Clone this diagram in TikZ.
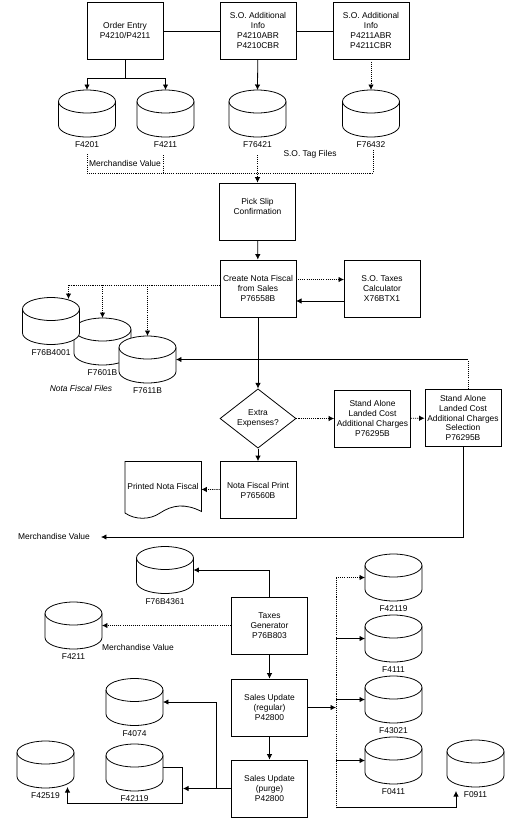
\documentclass[tikz,border=0pt]{standalone}
\usepackage{fontspec}
\setmainfont{Liberation Sans}
\usetikzlibrary{arrows.meta,shapes.geometric}
\tikzset{
  prog/.style={draw,fill=white,line width=.45pt,minimum width=1.52cm,minimum height=1.14cm,inner sep=0pt,align=center,font=\fontsize{4.8}{5.67}\selectfont},
  decide/.style={prog,diamond},
  disk/.style={minimum width=1.14cm,minimum height=.94cm,inner sep=0pt,outer sep=0pt},
  diskline/.style={draw,fill=white,line width=.45pt},
  filelabel/.style={font=\fontsize{4.8}{5.67}\selectfont,inner sep=0pt,label distance=.09cm},
  note/.style={font=\fontsize{4.8}{5.67}\selectfont,inner sep=0pt},
  solidto/.style={line width=.45pt,-{Latex[length=1.1mm,width=1.1mm]}},
  dotto/.style={solidto,dash pattern=on .6pt off .6pt},
  solidline/.style={line width=.45pt},
  dotline/.style={solidline,dash pattern=on .6pt off .6pt}
}
\begin{document}
\begin{tikzpicture}[x=.02cm,y=-.02cm]
  \useasboundingbox (0,0) rectangle (511,819);
  % programs
  \node[prog] (order) at (125,30.5) {Order Entry\\P4210/P4211};
  \node[prog] (infoa) at (258,30.5) {S.O. Additional\\Info\\P4210ABR\\P4210CBR};
  \node[prog] (infob) at (371,30.5) {S.O. Additional\\Info\\P4211ABR\\P4211CBR};
  \node[prog] (pick) at (257.5,211.5) {Pick Slip\\Confirmation\\\mbox{}};
  \node[prog] (create) at (258,288.5) {Create Nota Fiscal\\from Sales\\P76558B};
  \node[prog] (calc) at (382,288.5) {S.O. Taxes\\Calculator\\X76BTX1};
  \node[decide] (extra) at (258,418.5) {Extra\\Expenses?};
  \node[prog] (standa) at (372.5,418.5) {Stand Alone\\Landed Cost\\Additional Charges\\P76295B};
  \node[prog] (standb) at (463,418) {Stand Alone\\Landed Cost\\Additional Charges\\Selection\\P76295B};
  \node[prog] (print) at (258,490) {Nota Fiscal Print\\P76560B};
  \node[prog] (taxes) at (269.5,625.5) {Taxes\\Generator\\P76B803};
  \node[prog] (regular) at (269.5,707.5) {Sales Update\\(regular)\\P42800};
  \node[prog] (purge) at (269.5,788.5) {Sales Update\\(purge)\\P42800};
  % printed report
  \node[prog,draw=none,fill=none] (printed) at (163,489) {\raisebox{3.4pt}{Printed Nota Fiscal}};
  \draw[solidline] (125,461.5) -- (201.5,461.5) -- (201.5,511.5)
    .. controls (185,503) and (172,505) .. (160,513)
    .. controls (150,520) and (135,520) .. (125,513) -- cycle;
  % files
  \foreach \cname/\px/\py/\fname in {f4201/87/113.5/F4201,f4211/165.5/113.5/F4211,f76421/257.5/113.5/F76421,f76432/371/113.5/F76432,
    f7601/102.5/341.5/F7601B,f76b4001/51/321/F76B4001,f7611/147.5/359.5/F7611B,
    f76b4361/165/570/F76B4361,f4211b/73.5/625.5/F4211,f4074/134.5/702/F4074,f42119b/134.5/767.5/F42119,f42519/45.5/764.5/F42519,
    f42119/393.5/577.5/F42119,f4111/393.5/638.5/F4111,f43021/393.5/699.5/F43021,f0411/393.5/760.5/F0411,f0911/475.5/763.5/F0911}
    {
    \node[disk,label={[filelabel]below:\fname}] (\cname) at (\px,\py) {};
    \draw[diskline] ([yshift=-.23cm]\cname.north west) arc[start angle=180,end angle=0,x radius=.57cm,y radius=.23cm]
      -- ([yshift=.23cm]\cname.south east) arc[start angle=0,end angle=-180,x radius=.57cm,y radius=.23cm] -- cycle;
    \draw[solidline] ([yshift=-.23cm]\cname.north west) arc[start angle=180,end angle=360,x radius=.57cm,y radius=.23cm];
    }
  % free labels
  \node[note] (tagfiles) at (310,154) {S.O. Tag Files};
  \node[note] (merchtop) at (125,163.5) {Merchandise Value};
  \node[note,font=\fontsize{4.8}{5.67}\itshape\selectfont] (notafiles) at (81,388) {Nota Fiscal Files};
  \node[note] (merchmid) at (54,536.5) {Merchandise Value};
  \node[note] (merchlow) at (138,647) {Merchandise Value};
  % junctions
  \coordinate (entrybus) at (125,78);
  \coordinate (brackl) at (87,154);
  \coordinate (brackm) at (163,155);
  \coordinate (brackr) at (373,150);
  \coordinate (brackb) at (257.5,173);
  \coordinate (picktop) at (257.5,155);
  \coordinate (notabus) at (220,285);
  \coordinate (notaa) at (68.5,299);
  \coordinate (calcin) at (344,279.5);
  \coordinate (createout) at (296,279.5);
  \coordinate (calcout) at (344,301);
  \coordinate (createin) at (296,301);
  \coordinate (standup) at (468,389);
  \coordinate (merchend) at (101,537);
  \coordinate (updbus) at (336,707.5);
  \coordinate (busnorth) at (336,577.5);
  \coordinate (bussouth) at (336,807);
  \coordinate (lasttip) at (456,791);
  \coordinate (purgetip) at (183,788.5);
  \coordinate (purgebus) at (216,788.5);
  \coordinate (lowturn) at (182.5,803.5);
  \coordinate (lowtip) at (67.5,787);
  % connectors
  \draw[solidline] (order.east |- 0,31) -- (infoa.west |- 0,31);
  \draw[solidline] (infoa.east |- 0,31) -- (infob.west |- 0,31);
  \draw[solidline] (order) -- (entrybus);
  \draw[solidto] (entrybus) -| (f4201.north);
  \draw[solidto] (entrybus) -| (f4211.north);
  \draw[solidto] (infoa) -- (f76421.north);
  \draw[dotto] (infob) -- (f76432.north);
  \draw[dotline] (brackl) |- (brackb) -| (brackr);
  \draw[dotline] (brackm) -- (brackm |- brackb);
  \draw[dotto] (picktop) -- (pick);
  \draw[solidto] (pick) -- (create);
  \draw[dotto] (createout) -- (calcin);
  \draw[solidto] (calcout) -- (createin);
  \draw[dotline] (notabus) -- (notabus -| notaa);
  \draw[dotto] (notabus -| notaa) -- (notaa);
  \draw[dotto] (notabus -| f7601.north) -- (f7601.north);
  \draw[dotto] (notabus -| f7611.north) -- (f7611.north);
  \draw[solidto] (create) -- (extra);
  \draw[solidto] (extra) -- (print);
  \draw[dotto] (extra) -- (standa);
  \draw[dotto] (standa) -- (standb);
  \draw[dotline] (standup) -- (standup |- f7611.east);
  \draw[solidto] (standup |- f7611.east) -- (f7611.east);
  \draw[solidto] (standb) |- (merchend);
  \draw[dotto] (print) -- (printed);
  \draw[solidto] (taxes) |- (f76b4361.east);
  \draw[dotto] (taxes) -- (f4211b.east);
  \draw[solidto] (taxes) -- (regular);
  \draw[solidto] (regular) -- (purge);
  \draw[solidto] (regular) -- (updbus);
  \draw[dotline] (busnorth) -- (bussouth);
  \draw[dotto] (busnorth) -- (f42119.west);
  \draw[solidto] (f4111.west -| updbus) -- (f4111.west);
  \draw[solidto] (f43021.west -| updbus) -- (f43021.west);
  \draw[solidto] (f0411.west -| updbus) -- (f0411.west);
  \draw[solidto] (bussouth) -| (lasttip);
  \draw[solidto] (purge) -- (purgetip);
  \draw[solidto] (purgebus) |- (f4074.east);
  \draw[solidto] (f42119b.east) -| (lowturn) -| (lowtip);
\end{tikzpicture}
\end{document}
